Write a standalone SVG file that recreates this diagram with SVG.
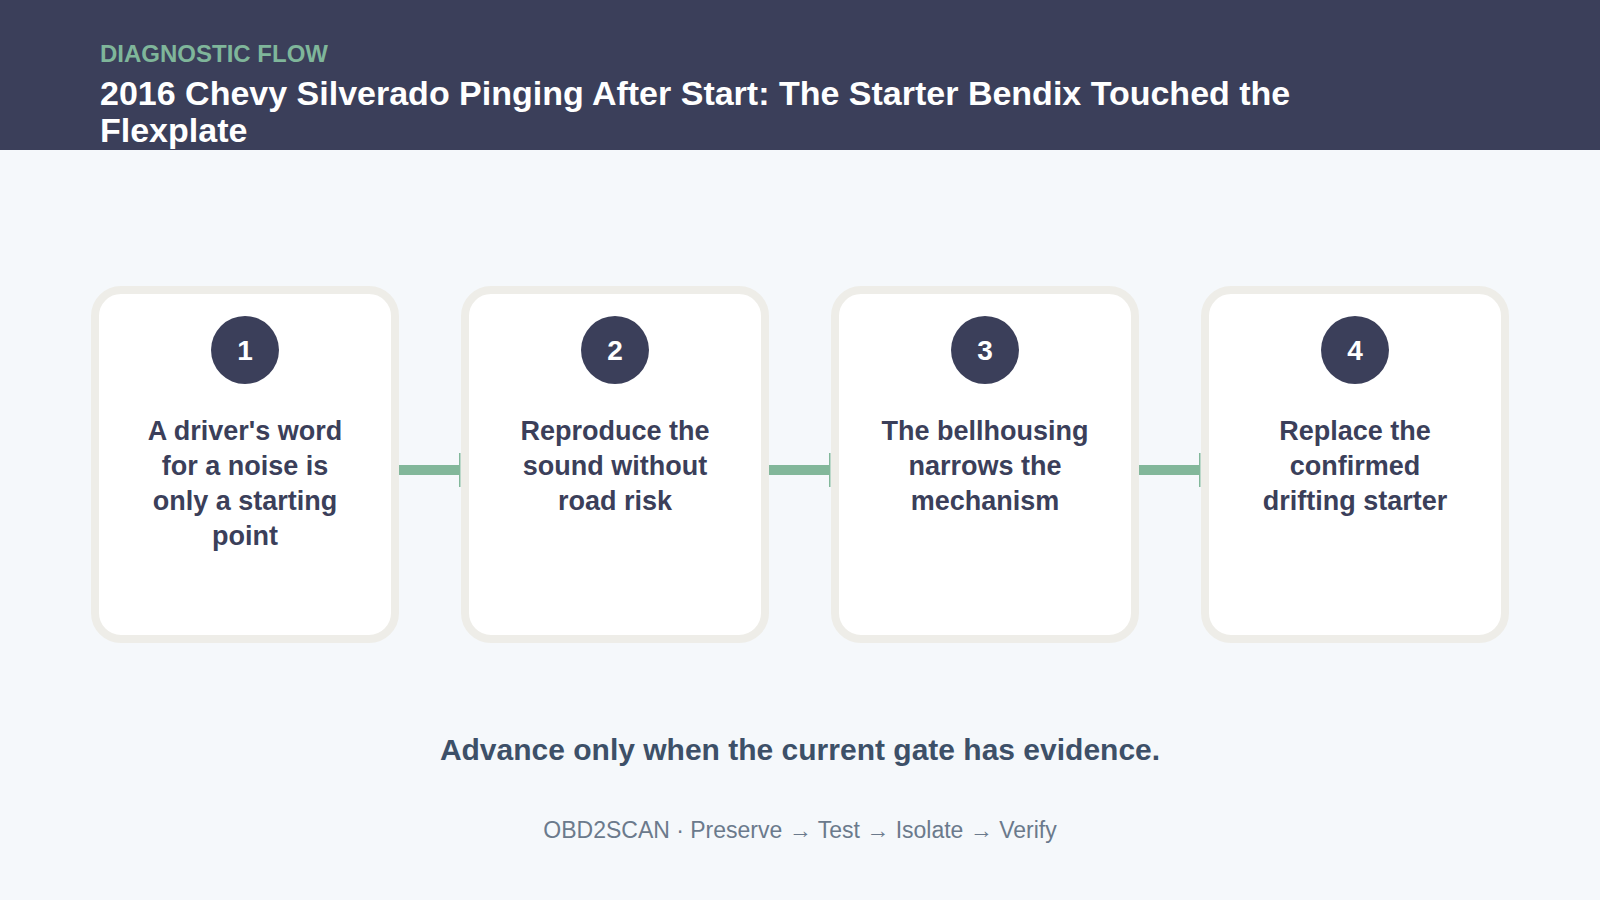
<svg xmlns="http://www.w3.org/2000/svg" width="1600" height="900" viewBox="0 0 1600 900">
  <style>
    .card { fill: #ffffff; stroke: #eeede8; stroke-width: 8; }
    .badge { fill: #3b3f5a; }
    .num { font-family: "Liberation Sans", Arial, sans-serif; font-weight: 700; font-size: 28px; fill: #ffffff; text-anchor: middle; }
    .label { font-family: "Liberation Sans", Arial, sans-serif; font-weight: 700; font-size: 27px; fill: #3b3f5a; text-anchor: middle; }
    .conn { stroke: #82b79a; stroke-width: 10; fill: none; }
  </style>
  <defs>
    <marker id="bar" markerUnits="userSpaceOnUse" markerWidth="4" markerHeight="34" refX="1" refY="17" orient="auto">
      <rect x="0" y="0" width="1.5" height="34" fill="#82b79a"/>
    </marker>
  </defs>
  <rect x="0" y="0" width="1600" height="900" fill="#f5f8fb"/>
  <g id="header">
    <rect x="0" y="0" width="1600" height="150" fill="#3b3f5a"/>
    <text x="100" y="62" font-family="Liberation Sans, Arial, sans-serif" font-weight="700" font-size="24" fill="#7fb69a">DIAGNOSTIC FLOW</text>
    <text font-family="Liberation Sans, Arial, sans-serif" font-weight="700" font-size="34" fill="#ffffff">
      <tspan x="100" y="105">2016 Chevy Silverado Pinging After Start: The Starter Bendix Touched the</tspan>
      <tspan x="100" y="142">Flexplate</tspan>
    </text>
  </g>
  <g id="connectors">
    <line class="conn" x1="399" y1="470" x2="460" y2="470" marker-end="url(#bar)"/>
    <line class="conn" x1="769" y1="470" x2="830" y2="470" marker-end="url(#bar)"/>
    <line class="conn" x1="1139" y1="470" x2="1200" y2="470" marker-end="url(#bar)"/>
  </g>
  <g id="node1">
    <rect class="card" x="95" y="290" width="300" height="349" rx="26"/>
    <circle class="badge" cx="245" cy="350" r="34"/>
    <text class="num" x="245" y="360">1</text>
    <text class="label"><tspan x="245" y="440">A driver's word</tspan><tspan x="245" y="475">for a noise is</tspan><tspan x="245" y="510">only a starting</tspan><tspan x="245" y="545">point</tspan></text>
  </g>
  <g id="node2">
    <rect class="card" x="465" y="290" width="300" height="349" rx="26"/>
    <circle class="badge" cx="615" cy="350" r="34"/>
    <text class="num" x="615" y="360">2</text>
    <text class="label"><tspan x="615" y="440">Reproduce the</tspan><tspan x="615" y="475">sound without</tspan><tspan x="615" y="510">road risk</tspan></text>
  </g>
  <g id="node3">
    <rect class="card" x="835" y="290" width="300" height="349" rx="26"/>
    <circle class="badge" cx="985" cy="350" r="34"/>
    <text class="num" x="985" y="360">3</text>
    <text class="label"><tspan x="985" y="440">The bellhousing</tspan><tspan x="985" y="475">narrows the</tspan><tspan x="985" y="510">mechanism</tspan></text>
  </g>
  <g id="node4">
    <rect class="card" x="1205" y="290" width="300" height="349" rx="26"/>
    <circle class="badge" cx="1355" cy="350" r="34"/>
    <text class="num" x="1355" y="360">4</text>
    <text class="label"><tspan x="1355" y="440">Replace the</tspan><tspan x="1355" y="475">confirmed</tspan><tspan x="1355" y="510">drifting starter</tspan></text>
  </g>
  <g id="footer">
    <text x="800" y="760" text-anchor="middle" font-family="Liberation Sans, Arial, sans-serif" font-weight="700" font-size="30" fill="#3d5068">Advance only when the current gate has evidence.</text>
    <text x="800" y="838" text-anchor="middle" font-family="Liberation Sans, Arial, sans-serif" font-size="23" fill="#6b7a8c">OBD2SCAN · Preserve → Test → Isolate → Verify</text>
  </g>
</svg>
